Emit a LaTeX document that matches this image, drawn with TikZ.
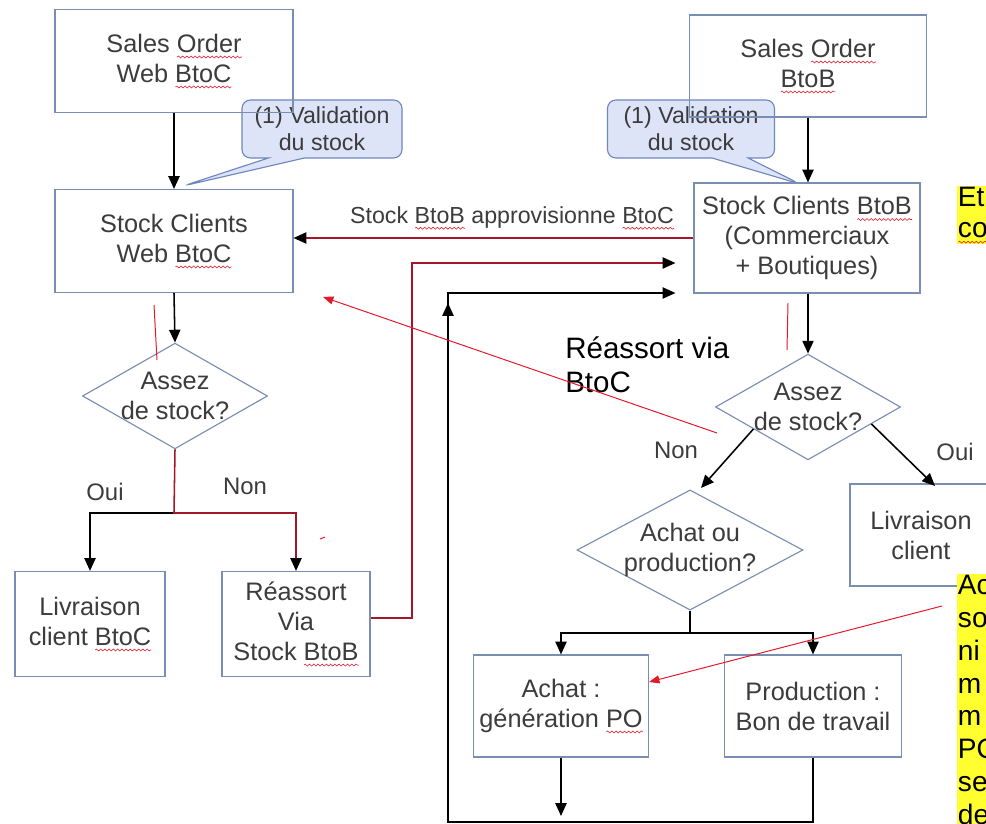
\documentclass[tikz,border=0pt]{standalone}
\usepackage{fontspec}
\setmainfont{Liberation Sans}
\usetikzlibrary{shapes.geometric,shapes.callouts,arrows.meta,decorations.pathmorphing}

\definecolor{boxline}{HTML}{7A8DB3}
\definecolor{boxtext}{HTML}{3C3C3C}
\definecolor{callfill}{HTML}{DDE4F8}
\definecolor{callline}{HTML}{6F86BE}
\definecolor{redline}{HTML}{A5162C}
\definecolor{redthin}{HTML}{E5172B}
\definecolor{notebg}{HTML}{FFFF30}

\newlength{\wavylen}
\newcommand{\wavy}[1]{\leavevmode\settowidth{\wavylen}{#1}\rlap{\tikz[baseline=0pt]\draw[redthin, line width=0.4pt, decorate, decoration={snake, amplitude=0.7pt, segment length=3pt}] (0pt, -3.5pt) -- (\wavylen, -3.5pt);}#1}

\begin{document}
\begin{tikzpicture}[x=0.25mm, y=-0.25mm,
        box/.style={draw=boxline, line width=0.8pt, text=boxtext, align=center, font=\fontsize{18}{21.3}\selectfont, inner sep=1pt},
        test/.style={diamond, draw=boxline, line width=0.8pt, text=boxtext, align=center, font=\fontsize{18}{21.3}\selectfont, inner sep=-0.3mm, aspect=1.75},
        bulle/.style={rectangle callout, rounded corners=6pt, draw=callline, fill=callfill, line width=0.8pt, text=boxtext, align=center, font=\fontsize{16.5}{19}\selectfont, minimum width=40mm, minimum height=14.5mm, inner sep=1pt, callout pointer width=9mm},
        flow/.style={line width=1.1pt, -{Triangle[length=3.2mm,width=2.8mm]}},
        redflow/.style={line width=1.1pt, draw=redline, -{Triangle[length=3.2mm,width=2.8mm,black]}},
        plain/.style={line width=1.1pt},
        hint/.style={draw=redthin, line width=0.7pt},
        hintarrow/.style={hint, -{Triangle[length=2.6mm,width=2mm]}},
        lbl/.style={text=boxtext, font=\fontsize{17}{20}\selectfont, inner sep=0pt},
        note/.style={fill=notebg, anchor=north west, align=left, text width=12mm, inner sep=0.5pt, font=\fontsize{20}{23.4}\selectfont}]

        \useasboundingbox (0, 0) rectangle (986, 824);
        \fill[white] (0, 0) rectangle (986, 824);

        \node (val-web) at (322, 129) [bulle, callout absolute pointer={(183, 186)}] {(1) Validation\\du stock};
        \node (val-b2b) at (691, 129) [bulle, minimum width=41.75mm, callout absolute pointer={(800, 184)}] {(1) Validation\\du stock};

        \node (so-web) at (174, 61) [box, minimum width=59.5mm, minimum height=25.75mm] {Sales \wavy{Order}\\Web \wavy{BtoC}};
        \node (so-b2b) at (808, 66) [box, minimum width=59.25mm, minimum height=25.5mm] {Sales \wavy{Order}\\\wavy{BtoB}};

        \node (st-web) at (174, 241) [box, minimum width=59.5mm, minimum height=25.75mm] {Stock Clients\\Web \wavy{BtoC}};
        \node (st-b2b) at (807, 238) [box, minimum width=56.5mm, minimum height=27.5mm] {Stock Clients \wavy{BtoB}\\(Commerciaux\\+ Boutiques)};

        \node (chk-web) at (175, 396) [test] {Assez\\de stock?};
        \node (chk-b2b) at (808, 407) [test] {Assez\\de stock?};
        \node (ach-prod) at (690, 550) [test, aspect=1.88] {Achat ou\\production?};

        \node (liv-web) at (90, 624) [box, minimum width=37.5mm, minimum height=26.25mm] {Livraison\\client \wavy{BtoC}};
        \node (reas-web) at (296, 624) [box, minimum width=37mm, minimum height=26.25mm] {Réassort\\Via\\Stock \wavy{BtoB}};
        \node (liv-b2b) at (921, 535) [box, minimum width=35.5mm, minimum height=25.5mm] {Livraison\\client};

        \node (achat) at (561, 706) [box, minimum width=43.75mm, minimum height=25.5mm] {Achat :\\génération \wavy{PO}};
        \node (prod) at (813, 706) [box, minimum width=44.25mm, minimum height=25.5mm] {Production :\\Bon de travail};

        \node (txt-appro) at (512, 218) [lbl, font=\fontsize{16.5}{19}\selectfont] {Stock \wavy{BtoB} approvisionne \wavy{BtoC}};
        \node (oui-web) at (105, 492) [lbl] {Oui};
        \node (non-web) at (245, 486) [lbl] {Non};
        \node (txt-reas) at (565, 336) [anchor=north west, align=left, inner sep=0pt, font=\fontsize{21}{24.8}\selectfont] {Réassort via\\BtoC};
        \node (non-b2b) at (676, 450) [lbl] {Non};
        \node (oui-b2b) at (955, 452) [lbl] {Oui};

        \node (note-1) at (957, 186) [note, font=\fontsize{20}{22}\selectfont] {Et\\\wavy{co}};
        \node (note-2) at (957, 574) [note] {Ac\\so\\ni\\m\\m\\PO\\se\\de};

        \draw[flow] (so-web.south) -- (st-web.north);
        \draw[flow] (so-b2b.south) -- (so-b2b.south |- st-b2b.north);
        \draw[redflow] (st-b2b.west) -- (st-b2b.west -| st-web.east);

        \draw[flow] (st-web.south) -- (chk-web.north);
        \coordinate (split-web) at (174, 513);
        \draw[flow] (split-web) -| (liv-web.north);
        \draw[redflow] (chk-web.south) -- (split-web) -| (reas-web.north);

        \coordinate (up-red) at (412, 618);
        \coordinate (top-red) at (412, 263);
        \draw[redflow, shorten >=4.5mm] (reas-web.east |- up-red) -- (up-red) -- (top-red) -- (st-b2b.west |- top-red);

        \draw[flow] (chk-b2b.north |- st-b2b.south) -- (chk-b2b.north);
        \coordinate (non-tip) at (701, 488);
        \draw[flow] (chk-b2b.202) -- (non-tip);
        \coordinate (oui-tip) at (935, 486);
        \draw[flow] (chk-b2b.-15) -- (oui-tip);

        \coordinate (split-b2b) at (690, 633);
        \draw[plain] (ach-prod.south) -- (split-b2b);
        \draw[flow] (split-b2b) -| (achat.north);
        \draw[flow] (split-b2b) -| (prod.north);

        \coordinate (loop-bl) at (448, 822);
        \coordinate (loop-tl) at (448, 293);
        \coordinate (loop-tip) at (448, 303);
        \draw[flow] (achat.south) -- (achat.south |- 0, 816);
        \draw[flow, shorten >=4.5mm] (prod.south) |- (loop-bl) -- (loop-tl) -- (st-b2b.west |- loop-tl);
        \draw[flow] (loop-bl) -- (loop-tip);

        \coordinate (hint-a) at (717, 433);
        \coordinate (hint-a-end) at (323, 297);
        \draw[hintarrow] (hint-a) -- (hint-a-end);
        \coordinate (hint-b) at (942, 606);
        \draw[hintarrow] (hint-b) -- (achat.east |- 0, 682);
        \draw[hint] (154, 305) -- (157, 360);
        \draw[hint] (788, 303) -- (787, 350);
        \draw[hint] (320, 539) -- (325, 537);

    \end{tikzpicture}
\end{document}
